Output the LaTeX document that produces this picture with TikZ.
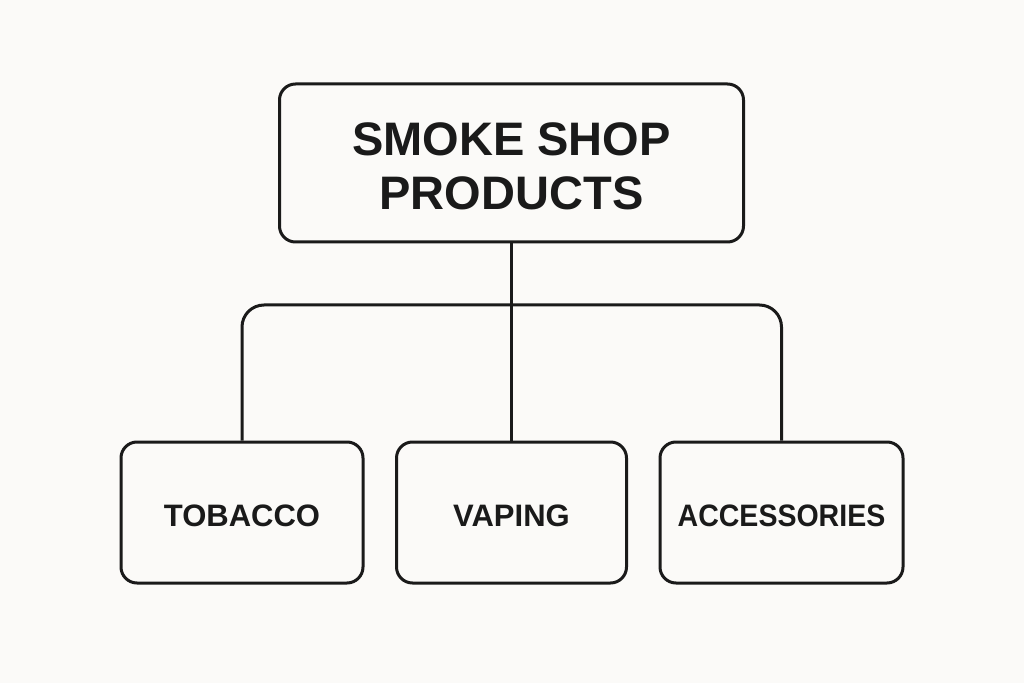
\documentclass[tikz,border=0pt]{standalone}
\usepackage{fontspec}
\setmainfont{Liberation Sans}
\definecolor{bg}{HTML}{FBFAF8}
\definecolor{ink}{HTML}{1A1A1A}
\begin{document}
\begin{tikzpicture}[x=1pt,y=1pt,
  box/.style={draw=ink,line width=3pt,rounded corners=16pt,inner sep=0pt},
  topbox/.style={box,minimum width=464pt,minimum height=158pt},
  leafbox/.style={box,minimum height=141pt},
  toptext/.style={align=center,text=ink,inner sep=0pt,font=\bfseries\fontsize{47}{54}\selectfont},
  leaftext/.style={text=ink,inner sep=0pt,font=\bfseries\fontsize{31}{36}\selectfont},
  wire/.style={draw=ink,line width=3pt}]
\fill[bg] (0,0) rectangle (1024,683);
\useasboundingbox (0,0) rectangle (1024,683);
\node[topbox] (top) at (511.5,520) {};
\node[toptext] (topT) at ([yshift=-3.5pt]top.center) {SMOKE SHOP\\PRODUCTS};
\node[leafbox,minimum width=242pt] (tob) at (242,170.5) {};
\node[leafbox,minimum width=230pt] (vap) at (511.5,170.5) {};
\node[leafbox,minimum width=243pt] (acc) at (781.5,170.5) {};
\node[leaftext] (tobT) at ([yshift=-3.5pt]tob.center) {TOBACCO};
\node[leaftext] (vapT) at ([yshift=-3.5pt]vap.center) {VAPING};
\node[leaftext] (accT) at ([yshift=-3.5pt]acc.center) {\scalebox{0.92}[1]{ACCESSORIES}};
\coordinate (bar) at (511.5,378);
\draw[wire] (top.south) -- (vap.north);
\draw[wire,rounded corners=22pt] (tob.north) -- (tob.north |- bar) -- (acc.north |- bar) -- (acc.north);
\end{tikzpicture}
\end{document}
